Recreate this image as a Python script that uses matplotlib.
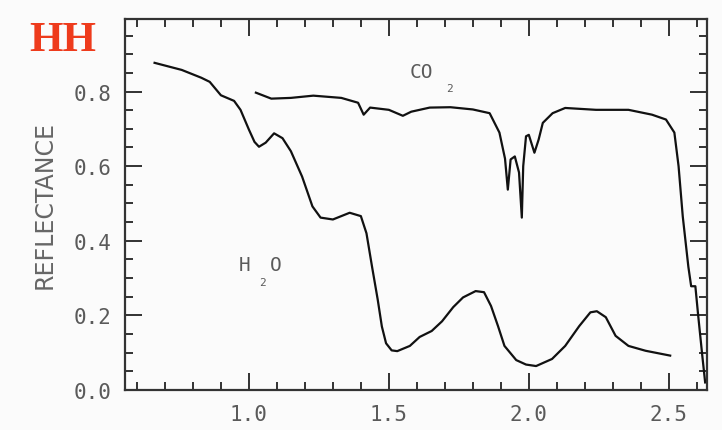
import matplotlib
matplotlib.use("Agg")
import matplotlib.pyplot as plt
from matplotlib.ticker import MultipleLocator

# H2O frost spectrum (wavelength um, reflectance)
h2o_wl = [0.663, 0.76, 0.83, 0.86, 0.90, 0.947, 0.97, 1.00, 1.02, 1.036,
          1.06, 1.09, 1.12, 1.15, 1.19, 1.227, 1.256, 1.30, 1.36, 1.40,
          1.42, 1.44, 1.46, 1.475, 1.49, 1.51, 1.53, 1.575, 1.61, 1.653,
          1.69, 1.73, 1.765, 1.81, 1.84, 1.865, 1.89, 1.913, 1.955, 1.99,
          2.026, 2.083, 2.13, 2.18, 2.22, 2.243, 2.275, 2.31, 2.356, 2.417,
          2.505]
h2o_refl = [0.877, 0.858, 0.837, 0.826, 0.79, 0.775, 0.751, 0.698, 0.665, 0.652,
            0.663, 0.688, 0.675, 0.640, 0.572, 0.492, 0.462, 0.457, 0.475, 0.466,
            0.42, 0.33, 0.243, 0.17, 0.125, 0.106, 0.104, 0.118, 0.142, 0.158,
            0.184, 0.222, 0.248, 0.265, 0.262, 0.225, 0.171, 0.118, 0.080, 0.068,
            0.064, 0.083, 0.118, 0.171, 0.208, 0.211, 0.195, 0.145, 0.118, 0.105,
            0.092]

# CO2 frost spectrum
co2_wl = [1.025, 1.08, 1.15, 1.23, 1.33, 1.39, 1.41, 1.433, 1.50, 1.55,
          1.58, 1.646, 1.72, 1.80, 1.86, 1.895, 1.915, 1.925, 1.935, 1.95,
          1.965, 1.975, 1.98, 1.99, 2.00, 2.02, 2.035, 2.05, 2.085, 2.13,
          2.24, 2.356, 2.44, 2.49, 2.52, 2.535, 2.55, 2.57, 2.58, 2.595,
          2.605, 2.62, 2.63]
co2_refl = [0.797, 0.781, 0.783, 0.789, 0.783, 0.770, 0.738, 0.757, 0.751, 0.735,
            0.746, 0.757, 0.758, 0.752, 0.742, 0.69, 0.62, 0.537, 0.618, 0.626,
            0.583, 0.462, 0.60, 0.68, 0.684, 0.636, 0.671, 0.716, 0.742, 0.756,
            0.751, 0.751, 0.738, 0.725, 0.69, 0.60, 0.465, 0.33, 0.278, 0.278,
            0.20, 0.09, 0.02]

x_ticks = [1.0, 1.5, 2.0, 2.5]
y_ticks = [0.0, 0.2, 0.4, 0.6, 0.8]

txt = "#5a5a5a"
mono = "DejaVu Sans Mono"

fig = plt.figure(figsize=(7.22, 4.31), dpi=100)
fig.patch.set_facecolor("#fbfbfb")
ax = fig.add_axes([0.173, 0.093, 0.806, 0.861])
ax.set_facecolor("#fbfbfb")

ax.plot(h2o_wl, h2o_refl, color="#111111", lw=1.6)
ax.plot(co2_wl, co2_refl, color="#111111", lw=1.6)

ax.set_xlim(0.557, 2.636)
ax.set_ylim(0.0, 0.995)
ax.set_xticks(x_ticks)
ax.set_yticks(y_ticks)
ax.xaxis.set_minor_locator(MultipleLocator(0.1))
ax.yaxis.set_minor_locator(MultipleLocator(0.05))
ax.set_xticklabels(["%.1f" % v for v in x_ticks], family=mono, fontsize=15, color=txt)
ax.set_yticklabels(["%.1f" % v for v in y_ticks], family=mono, fontsize=15, color=txt)
ax.tick_params(which="both", direction="in", top=True, right=True, color="#222222", width=1.3)
ax.tick_params(which="major", length=12, pad=10)
ax.tick_params(which="minor", length=6)
for s in ax.spines.values():
    s.set_linewidth(1.6)
    s.set_color("#333333")

ax.set_ylabel("REFLECTANCE", fontsize=17, color="#666666", labelpad=12)

# curve labels
ax.text(1.575, 0.855, "CO", fontsize=14, color=txt, family=mono, ha="left", va="center")
ax.text(1.705, 0.81, "2", fontsize=8, color=txt, family=mono, ha="left", va="center")
ax.text(0.965, 0.335, "H", fontsize=14, color=txt, family=mono, ha="left", va="center")
ax.text(1.035, 0.29, "2", fontsize=8, color=txt, family=mono, ha="left", va="center")
ax.text(1.075, 0.335, "O", fontsize=14, color=txt, family=mono, ha="left", va="center")

fig.text(0.041, 0.905, "HH", fontsize=31, fontweight="bold", color="#ee3b1c",
         family="Liberation Serif", ha="left", va="center")

fig.savefig("out.png", dpi=100, facecolor=fig.get_facecolor())
